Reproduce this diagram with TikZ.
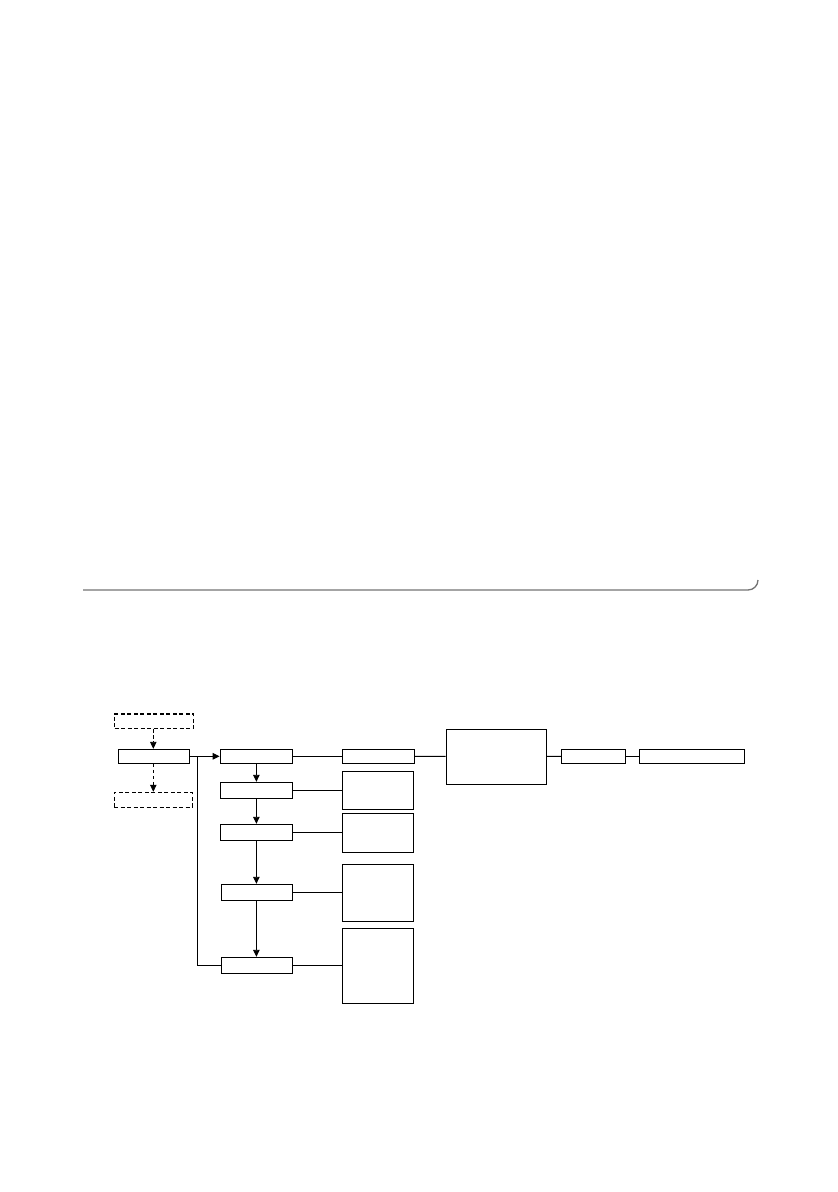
\documentclass[tikz,border=0pt]{standalone}
\usetikzlibrary{arrows.meta}
\begin{document}
\begin{tikzpicture}[x=1pt,y=-1pt,
  box/.style={draw=black,line width=1pt,minimum height=#1,inner sep=0pt},
  dbox/.style={draw=black,line width=1.1pt,dash pattern=on 4pt off 2.5pt,inner sep=0pt},
  conn/.style={line width=0.9pt,draw=black},
  arr/.style={conn,-{Triangle[length=7pt,width=6.5pt]}},
  darr/.style={arr,dash pattern=on 3.5pt off 2.5pt}]
\useasboundingbox (0,0) rectangle (838,1192);
% top rule
\draw[line width=1.3pt,draw=black!55] (83,590) -- (748,590) arc[start angle=90,end angle=0,radius=10];
% nodes
\node[dbox,minimum width=79pt,minimum height=14.5pt] (top) at (154,721.2) {};
\node[dbox,minimum width=78pt,minimum height=15pt] (bot) at (153.2,799.8) {};
\node[box=14pt,minimum width=71pt] (a) at (153.8,756.3) {};
\node[box=14pt,minimum width=72.5pt] (b) at (256.4,756.3) {};
\node[box=14pt,minimum width=72pt] (c) at (378.3,756.3) {};
\node[box=55pt,minimum width=100.5pt] (big) at (496.4,756.5) {};
\node[box=14pt,minimum width=64.4pt] (h) at (593.5,756.3) {};
\node[box=14pt,minimum width=105pt] (i) at (691.8,756.3) {};
\node[box=16pt,minimum width=72.5pt] (d) at (256.4,790.3) {};
\node[box=16pt,minimum width=72.5pt] (e) at (256.4,832.3) {};
\node[box=16pt,minimum width=71.4pt] (f) at (257,892.3) {};
\node[box=16pt,minimum width=71.4pt] (g) at (257,965.3) {};
\node[box=37.6pt,minimum width=71pt] (r1) at (377.8,790.5) {};
\node[box=39pt,minimum width=71pt] (r2) at (377.8,832.8) {};
\node[box=57.4pt,minimum width=71pt] (r3) at (377.8,893) {};
\node[box=75pt,minimum width=71pt] (r4) at (377.8,965.8) {};
% connectors
\draw[darr] (top.south -| 153.3,0) -- (a.north -| 153.3,0);
\draw[darr] (a.south -| 153.3,0) -- (bot.north -| 153.3,0);
\draw[arr] (a) -- (b);
\coordinate (j) at (197.3,756.3);
\draw[conn] (j) |- (g.west);
\draw[conn] (b) -- (c);
\draw[conn] (c) -- (big);
\draw[conn] (big) -- (h);
\draw[conn] (h) -- (i);
\draw[arr] (b.south) -- (d.north);
\draw[arr] (d.south) -- (e.north);
\draw[arr] (e.south) -- (f.north -| e.south);
\draw[arr] (f.south -| e.south) -- (g.north -| e.south);
\draw[conn] (d.east) -- (r1.west |- d.east);
\draw[conn] (e.east) -- (r2.west |- e.east);
\draw[conn] (f.east) -- (r3.west |- f.east);
\draw[conn] (g.east) -- (r4.west |- g.east);
\end{tikzpicture}
\end{document}
